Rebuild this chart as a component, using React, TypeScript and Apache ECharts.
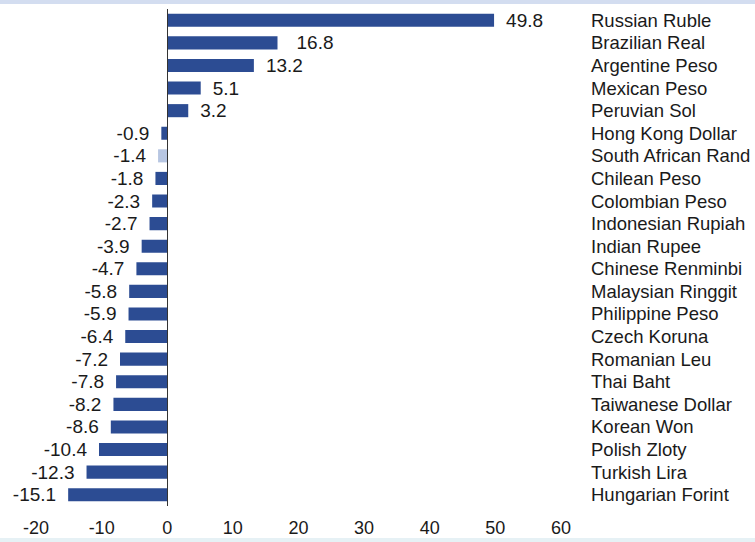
import React, { useEffect, useRef } from "react";
import * as echarts from "echarts";

const categories = [
  "Russian Ruble", "Brazilian Real", "Argentine Peso", "Mexican Peso", "Peruvian Sol",
  "Hong Kong Dollar", "South African Rand", "Chilean Peso", "Colombian Peso", "Indonesian Rupiah",
  "Indian Rupee", "Chinese Renminbi", "Malaysian Ringgit", "Philippine Peso", "Czech Koruna",
  "Romanian Leu", "Thai Baht", "Taiwanese Dollar", "Korean Won", "Polish Zloty",
  "Turkish Lira", "Hungarian Forint",
];
const values = [
  49.8, 16.8, 13.2, 5.1, 3.2, -0.9, -1.4, -1.8, -2.3, -2.7, -3.9, -4.7, -5.8, -5.9, -6.4,
  -7.2, -7.8, -8.2, -8.6, -10.4, -12.3, -15.1,
];
const highlighted = ["South African Rand"];
const xTicks = [-20, -10, 0, 10, 20, 30, 40, 50, 60];

const DARK = "#2C4C93";
const LIGHT = "#B7C6E2";
const FONT = "Liberation Sans, Arial, sans-serif";

export default function App() {
  const ref = useRef<HTMLDivElement>(null);
  useEffect(() => {
    if (!ref.current) return;
    const chart = echarts.init(ref.current, null, { renderer: "svg" });
    const data = values.map((v, i) => ({
      value: v,
      itemStyle: { color: highlighted.includes(categories[i]) ? LIGHT : DARK },
      label: {
        position: v >= 0 ? "right" : "left",
        distance: categories[i] === "Brazilian Real" ? 19 : 12,
      },
    }));
    chart.setOption({
      animation: false,
      backgroundColor: "#ffffff",
      grid: { left: 36, right: 194, top: 9, bottom: 36, containLabel: false },
      xAxis: {
        type: "value",
        min: xTicks[0],
        max: xTicks[xTicks.length - 1],
        interval: 10,
        axisLine: { show: false },
        axisTick: { show: false },
        splitLine: { show: false },
        axisLabel: { color: "#1a1a1a", fontFamily: FONT, fontSize: 18, margin: 13 },
      },
      yAxis: [
        {
          type: "category",
          data: categories,
          inverse: true,
          position: "right",
          axisLine: { show: false },
          axisTick: { show: false },
          axisLabel: {
            interval: 0,
            hideOverlap: false,
            color: "#1a1a1a",
            fontFamily: FONT,
            fontSize: 18.5,
            margin: 30,
            align: "left",
          },
        },
      ],
      graphic: [
        { type: "rect", shape: { x: 0, y: 0, width: 755, height: 4 }, style: { fill: "#D3DDF0" }, silent: true },
        { type: "rect", shape: { x: 0, y: 538, width: 755, height: 4 }, style: { fill: "#E6F1F5" }, silent: true },
      ],
      series: [
        {
          type: "bar",
          data,
          barCategoryGap: "42%",
          label: {
            show: true,
            color: "#1a1a1a",
            fontFamily: FONT,
            fontSize: 19,
            formatter: (p: any) => p.value.toFixed(1),
          },
          markLine: {
            silent: true,
            symbol: "none",
            label: { show: false },
            lineStyle: { color: "#333333", width: 1, type: "solid" },
            data: [{ xAxis: 0 }],
          },
        },
      ],
    });
    return () => chart.dispose();
  }, []);
  return <div ref={ref} style={{ width: 755, height: 542, position: "absolute", left: 0, top: 0 }} />;
}
